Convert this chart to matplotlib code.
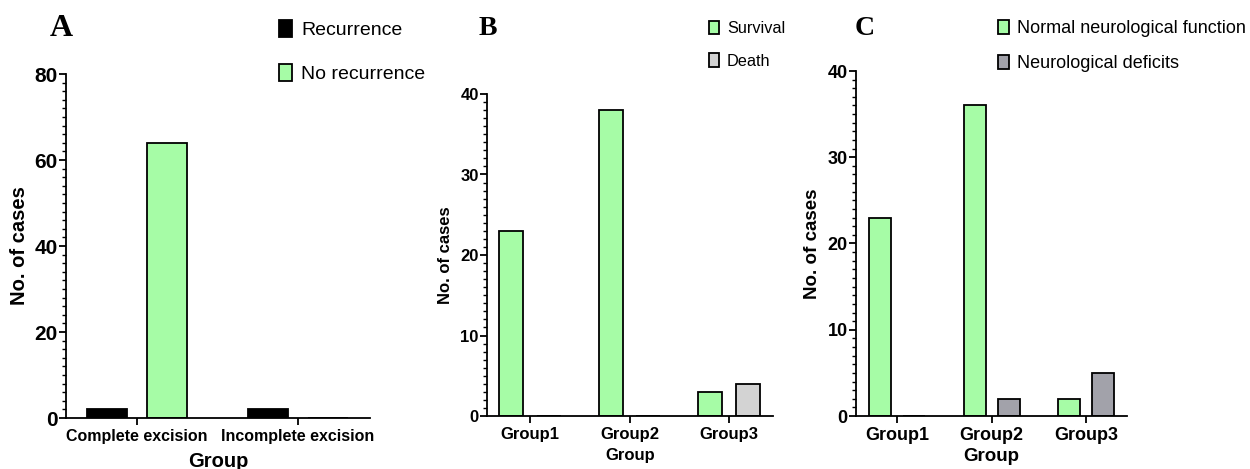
"""Three-panel bar figure: recurrence, survival and neurological outcome by group."""

import matplotlib.pyplot as plt
import numpy as np
from matplotlib.ticker import MultipleLocator

plt.rcParams["font.family"] = ["Liberation Sans", "DejaVu Sans"]

GREEN = "#a6fca6"

# panel A
A_GROUPS = ["Complete excision", "Incomplete excision"]
A_RECURRENCE = [2, 2]
A_NO_RECURRENCE = [64, 0]

# panel B
B_GROUPS = ["Group1", "Group2", "Group3"]
B_SURVIVAL = [23, 38, 3]
B_DEATH = [0, 0, 4]

# panel C
C_GROUPS = ["Group1", "Group2", "Group3"]
C_NORMAL = [23, 36, 2]
C_DEFICIT = [0, 2, 5]


def bar_panel(fig, rect, groups, series, ymax, major, minor, fs, xlim,
              width, offset):
    ax = fig.add_axes(rect)
    x = np.arange(len(groups))
    bars = []
    for sign, (vals, label, color) in zip((-1, 1), series):
        bars.append(ax.bar(x + sign * offset, vals, width, color=color,
                           edgecolor="black", linewidth=1.3, label=label))
    ax.set_xlim(*xlim)
    ax.set_ylim(0, ymax)
    ax.set_xticks(x, groups)
    ax.yaxis.set_major_locator(MultipleLocator(major))
    ax.yaxis.set_minor_locator(MultipleLocator(minor))
    for s in ("top", "right"):
        ax.spines[s].set_visible(False)
    for s in ("left", "bottom"):
        ax.spines[s].set_linewidth(1.3)
    ax.tick_params(axis="y", which="major", length=5, width=1.3,
                   labelsize=fs["ytick"], pad=1)
    ax.tick_params(axis="y", which="minor", length=3, width=1.0)
    ax.tick_params(axis="x", length=5, width=1.3, labelsize=fs["xtick"], pad=3)
    for t in ax.get_xticklabels() + ax.get_yticklabels():
        t.set_fontweight("bold")
    return ax, bars


fig = plt.figure(figsize=(12.5, 4.69), dpi=100)

# ---- A
axA, barsA = bar_panel(
    fig, [66 / 1250, 1 - 418 / 469, 304 / 1250, 344 / 469], A_GROUPS,
    [(A_RECURRENCE, "Recurrence", "black"),
     (A_NO_RECURRENCE, "No recurrence", GREEN)],
    80, 20, 2, {"ytick": 15, "xtick": 11.5}, (-0.44, 1.447), 0.248, 0.186)
axA.set_ylabel("No. of cases", fontsize=14.5, fontweight="bold", labelpad=4)
axA.set_xlabel("Group", fontsize=14.5, fontweight="bold", labelpad=6)
axA.legend(loc="upper left", bbox_to_anchor=(279 / 1250, 1 - 20 / 469),
           bbox_transform=fig.transFigure, frameon=False, fontsize=14,
           handlelength=0.68, handleheight=0.95, handletextpad=0.45,
           labelspacing=1.3, borderpad=0, borderaxespad=0)

# ---- B
axB, barsB = bar_panel(
    fig, [487 / 1250, 1 - 416 / 469, 286 / 1250, 322 / 469], B_GROUPS,
    [(B_SURVIVAL, "Survival", GREEN), (B_DEATH, "Death", "#d3d3d3")],
    40, 10, 1, {"ytick": 12, "xtick": 12}, (-0.43, 2.44), 0.24, 0.19)
axB.set_ylabel("No. of cases", fontsize=12, fontweight="bold", labelpad=5)
axB.set_xlabel("Group", fontsize=12, fontweight="bold", labelpad=4)
axB.legend(loc="upper left", bbox_to_anchor=(709 / 1250, 1 - 21 / 469),
           bbox_transform=fig.transFigure, frameon=False, fontsize=11.7,
           handlelength=0.6, handleheight=0.9, handletextpad=0.5,
           labelspacing=1.05, borderpad=0, borderaxespad=0)

# ---- C
axC, barsC = bar_panel(
    fig, [856 / 1250, 1 - 416 / 469, 271 / 1250, 345 / 469], C_GROUPS,
    [(C_NORMAL, "Normal neurological function", GREEN),
     (C_DEFICIT, "Neurological deficits", "#a2a2aa")],
    40, 10, 1, {"ytick": 13, "xtick": 13}, (-0.434, 2.43), 0.233, 0.18)
axC.set_ylabel("No. of cases", fontsize=13.5, fontweight="bold", labelpad=5)
axC.set_xlabel("Group", fontsize=13.5, fontweight="bold", labelpad=3)
axC.legend(loc="upper left", bbox_to_anchor=(998 / 1250, 1 - 20 / 469),
           bbox_transform=fig.transFigure, frameon=False, fontsize=13,
           handlelength=0.6, handleheight=0.85, handletextpad=0.45,
           labelspacing=0.95, borderpad=0, borderaxespad=0)

# panel letters
for letter, xp, yp, size in (("A", 50, 36, 23), ("B", 479, 35, 20),
                             ("C", 855, 35, 20)):
    fig.text(xp / 1250, 1 - yp / 469, letter, fontsize=size,
             family=["Liberation Serif", "DejaVu Serif"], fontweight="bold",
             ha="left", va="baseline")

fig.savefig("out.png", dpi=100)
